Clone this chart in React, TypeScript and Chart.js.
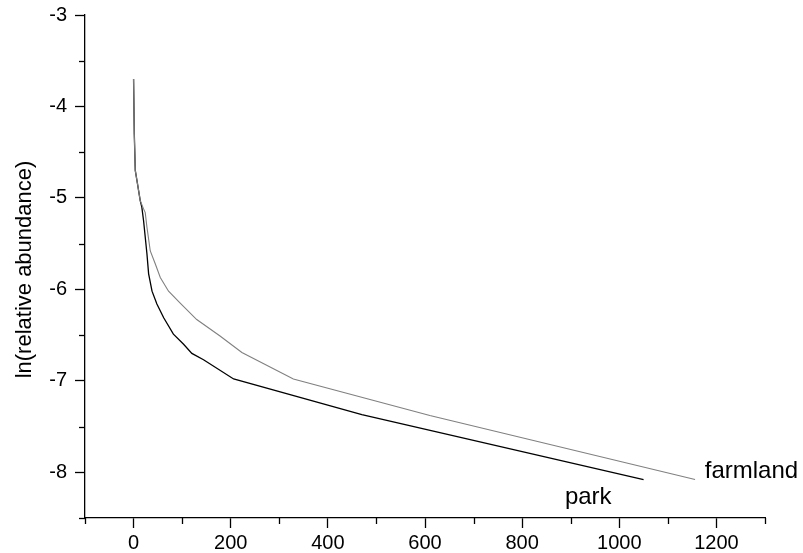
import React, { useEffect, useRef } from 'react';
import { Chart, registerables } from 'chart.js';

Chart.register(...registerables);

// ---- data (rank vs ln(relative abundance)) ----
const parkRank = [0, 1.5, 3.5, 7, 13.7, 17, 20.6, 27.5, 31, 38, 48, 62, 82, 103, 120, 144, 206, 470, 1050];
const parkLn = [-3.7, -4.3, -4.7, -4.81, -5.03, -5.1, -5.25, -5.61, -5.83, -6.02, -6.16, -6.31, -6.49, -6.6, -6.7, -6.77, -6.98, -7.37, -8.08];

const farmRank = [0, 1.5, 3.5, 7, 13.7, 20.6, 24, 27.5, 34.4, 44.6, 55, 72, 96, 130, 178, 223, 329, 610, 1156];
const farmLn = [-3.7, -4.3, -4.7, -4.81, -5.03, -5.12, -5.16, -5.32, -5.58, -5.72, -5.87, -6.02, -6.15, -6.33, -6.51, -6.69, -6.98, -7.38, -8.08];

const xTicks = [0, 200, 400, 600, 800, 1000, 1200];
const xMinorTicks = [-100, 100, 300, 500, 700, 900, 1100, 1300];
const yTicks = [-8, -7, -6, -5, -4, -3];
const yMinorTicks = [-8.5, -7.5, -6.5, -5.5, -4.5, -3.5];

const seriesNames = ['farmland', 'park'];
const seriesLabelX = [1176, 888];
const seriesLabelY = [-8.063, -8.345];
const axisTitle = 'ln(relative abundance)';

const FONT = '"Liberation Sans", Arial, Helvetica, sans-serif';

const decorPlugin = {
  id: 'decor',
  afterDraw(chart: any) {
    const { ctx, chartArea } = chart;
    const x = chart.scales.x;
    const y = chart.scales.y;
    ctx.save();
    ctx.strokeStyle = '#000';
    ctx.lineWidth = 1.3;
    xMinorTicks.forEach((v) => {
      const px = Math.round(x.getPixelForValue(v)) + 0.5;
      ctx.beginPath();
      ctx.moveTo(px, chartArea.bottom);
      ctx.lineTo(px, chartArea.bottom + 6);
      ctx.stroke();
    });
    yMinorTicks.forEach((v) => {
      const py = Math.round(y.getPixelForValue(v)) + 0.5;
      ctx.beginPath();
      ctx.moveTo(chartArea.left, py);
      ctx.lineTo(chartArea.left - 6, py);
      ctx.stroke();
    });
    // series labels
    ctx.fillStyle = '#000';
    ctx.font = '24px ' + FONT;
    ctx.textAlign = 'left';
    ctx.textBaseline = 'alphabetic';
    seriesNames.forEach((name, i) => {
      ctx.fillText(name, x.getPixelForValue(seriesLabelX[i]), y.getPixelForValue(seriesLabelY[i]));
    });
    // axis title
    ctx.font = '22px ' + FONT;
    ctx.translate(25, (chartArea.top + chartArea.bottom) / 2 + 3);
    ctx.rotate(-Math.PI / 2);
    ctx.textAlign = 'center';
    ctx.textBaseline = 'middle';
    ctx.fillText(axisTitle, 0, 0);
    ctx.restore();
  },
};

export default function App() {
  const canvasRef = useRef<HTMLCanvasElement | null>(null);

  useEffect(() => {
    const canvas = canvasRef.current;
    if (!canvas) return;
    const chart = new Chart(canvas, {
      type: 'scatter',
      data: {
        datasets: [
          {
            label: 'farmland',
            data: farmRank.map((r, i) => ({ x: r, y: farmLn[i] })),
            showLine: true,
            borderColor: '#808080',
            borderWidth: 1.1,
            pointRadius: 0,
            tension: 0,
            fill: false,
          },
          {
            label: 'park',
            data: parkRank.map((r, i) => ({ x: r, y: parkLn[i] })),
            showLine: true,
            borderColor: '#000000',
            borderWidth: 1.3,
            pointRadius: 0,
            tension: 0,
            fill: false,
          },
        ],
      },
      options: {
        animation: false,
        responsive: true,
        maintainAspectRatio: false,
        layout: { padding: { top: 15, right: 38, bottom: 0, left: 0 } },
        plugins: {
          legend: { display: false },
          tooltip: { enabled: false },
        },
        scales: {
          x: {
            type: 'linear',
            min: -100,
            max: 1300,
            afterBuildTicks: (scale: any) => {
              scale.ticks = xTicks.map((v) => ({ value: v }));
            },
            afterFit: (scale: any) => {
              scale.height = 35;
              scale.paddingLeft = 0;
              scale.paddingRight = 0;
            },
            border: { display: true, color: '#000', width: 1.3 },
            grid: {
              drawOnChartArea: false,
              drawTicks: true,
              tickLength: 10,
              tickColor: '#000',
              tickWidth: 1.3,
            },
            ticks: {
              color: '#000',
              font: { family: FONT, size: 20 },
              padding: 3,
              maxRotation: 0,
              autoSkip: false,
              callback: (v: any) => String(v),
            },
          },
          y: {
            type: 'linear',
            min: -8.5,
            max: -3,
            afterBuildTicks: (scale: any) => {
              scale.ticks = yTicks.map((v) => ({ value: v }));
            },
            afterFit: (scale: any) => {
              scale.width = 85;
              scale.paddingTop = 0;
              scale.paddingBottom = 0;
            },
            border: { display: true, color: '#000', width: 1.3 },
            grid: {
              drawOnChartArea: false,
              drawTicks: true,
              tickLength: 10,
              tickColor: '#000',
              tickWidth: 1.3,
            },
            ticks: {
              color: '#000',
              font: { family: FONT, size: 20 },
              padding: 8,
              autoSkip: false,
              callback: (v: any) => String(v),
            },
          },
        },
      },
      plugins: [decorPlugin],
    });
    return () => chart.destroy();
  }, []);

  return (
    <div style={{ position: 'fixed', left: 0, top: 0, width: 803, height: 553, background: '#fff' }}>
      <canvas ref={canvasRef} />
    </div>
  );
}
